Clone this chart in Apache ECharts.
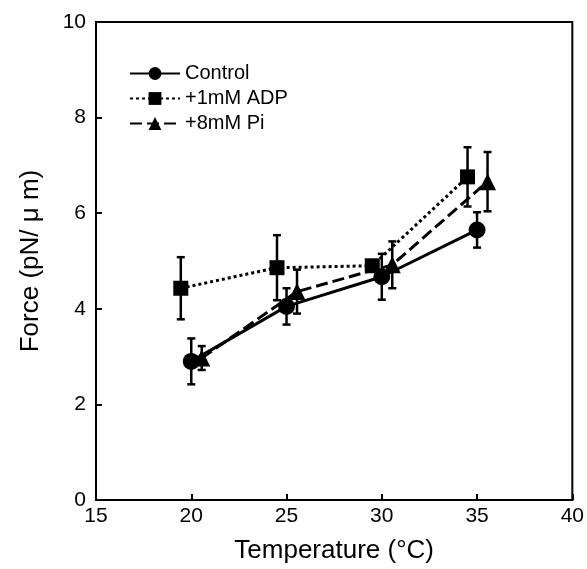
<!DOCTYPE html>
<html>
<head>
<meta charset="utf-8">
<script src="https://cdn.jsdelivr.net/npm/echarts@6/dist/echarts.min.js"></script>
<style>
  html, body { margin: 0; padding: 0; background: #fff; }
  #chart { width: 587px; height: 569px; }
</style>
</head>
<body>
<div id="chart"></div>
<script>
// temperatures (°C), force (pN/μm) and error (±)
const controlX = [20.0, 25.0, 30.0, 35.0]
const controlY = [2.90, 4.05, 4.67, 5.65]
const controlErr = [0.48, 0.38, 0.48, 0.37]

const adpX = [19.45, 24.5, 29.5, 34.5]
const adpY = [4.43, 4.86, 4.90, 6.76]
const adpErr = [0.65, 0.68, 0.10, 0.62]

const piX = [20.55, 25.55, 30.55, 35.55]
const piY = [2.97, 4.36, 4.92, 6.66]
const piErr = [0.25, 0.46, 0.49, 0.62]

const xTicks = [15, 20, 25, 30, 35, 40]
const yTicks = [0, 2, 4, 6, 8, 10]

const font = 'Liberation Sans, Arial, sans-serif'

function pts(xs, ys) {
  return xs.map((x, i) => [x, ys[i]])
}
function errData(xs, ys, es) {
  return xs.map((x, i) => [x, ys[i] - es[i], ys[i] + es[i]])
}

// 误差棒
function errorBar(params, api) {
  const x = api.value(0)
  const lo = api.coord([x, api.value(1)])
  const hi = api.coord([x, api.value(2)])
  const cap = 4
  const style = { stroke: '#000', lineWidth: 2.5 }
  return {
    type: 'group',
    children: [
      { type: 'line', shape: { x1: lo[0], y1: lo[1], x2: hi[0], y2: hi[1] }, style: style },
      { type: 'line', shape: { x1: lo[0] - cap, y1: lo[1], x2: lo[0] + cap, y2: lo[1] }, style: style },
      { type: 'line', shape: { x1: hi[0] - cap, y1: hi[1], x2: hi[0] + cap, y2: hi[1] }, style: style },
    ],
  }
}

const myChart = echarts.init(document.getElementById('chart'))
myChart.setOption({
  animation: false,
  grid: {
    left: 96,
    right: 12,
    top: 22,
    bottom: 66,
    show: true,
    borderColor: '#000',
    borderWidth: 2,
  },
  legend: {
    left: 124,
    top: 58,
    orient: 'vertical',
    itemWidth: 50,
    itemHeight: 16,
    itemGap: 4,
    data: ['Control', '+1mM ADP', '+8mM Pi'],
    textStyle: { fontFamily: font, fontSize: 20, color: '#000', lineHeight: 21 },
  },
  xAxis: {
    type: 'value',
    min: 15,
    max: 40,
    interval: 5,
    name: 'Temperature (°C)',
    nameLocation: 'middle',
    nameGap: 38,
    nameTextStyle: { fontFamily: font, fontSize: 26, color: '#000' },
    axisLine: { lineStyle: { color: '#000', width: 2 } },
    axisTick: { inside: true, length: 6, lineStyle: { color: '#000', width: 2 } },
    axisLabel: {
      fontFamily: font,
      fontSize: 21,
      color: '#000',
      margin: 6,
      formatter: v => (xTicks.includes(v) ? String(v) : ''),
    },
    splitLine: { show: false },
  },
  yAxis: {
    type: 'value',
    min: 0,
    max: 10,
    interval: 2,
    name: 'Force (pN/ μ m)',
    nameLocation: 'middle',
    nameGap: 52,
    nameTextStyle: { fontFamily: font, fontSize: 26, color: '#000' },
    axisLine: { lineStyle: { color: '#000', width: 2 } },
    axisTick: { inside: true, length: 6, lineStyle: { color: '#000', width: 2 } },
    axisLabel: {
      fontFamily: font,
      fontSize: 21,
      color: '#000',
      margin: 10,
      formatter: v => (yTicks.includes(v) ? String(v) : ''),
    },
    splitLine: { show: false },
  },
  series: [
    {
      type: 'custom',
      renderItem: errorBar,
      data: errData(adpX, adpY, adpErr),
      z: 1,
      silent: true,
    },
    {
      type: 'custom',
      renderItem: errorBar,
      data: errData(piX, piY, piErr),
      z: 1,
      silent: true,
    },
    {
      type: 'custom',
      renderItem: errorBar,
      data: errData(controlX, controlY, controlErr),
      z: 1,
      silent: true,
    },
    {
      name: '+1mM ADP',
      type: 'line',
      data: pts(adpX, adpY),
      symbol: 'rect',
      symbolSize: 15,
      itemStyle: { color: '#000' },
      lineStyle: { color: '#000', width: 3, type: [3, 3] },
      z: 3,
    },
    {
      name: '+8mM Pi',
      type: 'line',
      data: pts(piX, piY),
      symbol: 'triangle',
      symbolSize: 17,
      itemStyle: { color: '#000' },
      lineStyle: { color: '#000', width: 3, type: [12, 5] },
      z: 3,
    },
    {
      name: 'Control',
      type: 'line',
      data: pts(controlX, controlY),
      symbol: 'circle',
      symbolSize: 17,
      itemStyle: { color: '#000' },
      lineStyle: { color: '#000', width: 3, type: 'solid' },
      z: 3,
    },
  ],
})
window.addEventListener('resize', () => {
  myChart.resize()
})
</script>
</body>
</html>
